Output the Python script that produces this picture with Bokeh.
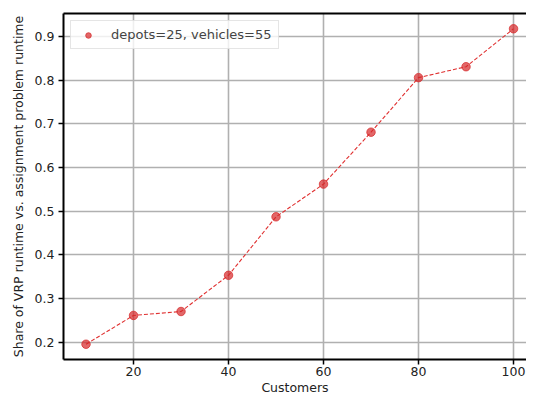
from bokeh.plotting import figure
from bokeh.models import Range1d, FixedTicker, Legend, LegendItem, LinearAxis
from bokeh.embed import file_html
from bokeh.resources import INLINE

customers = [10, 20, 30, 40, 50, 60, 70, 80, 90, 100]
share = [0.195, 0.261, 0.270, 0.353, 0.487, 0.562, 0.681, 0.806, 0.831, 0.918]
series_label = "depots=25, vehicles=55"
x_ticks = [20, 40, 60, 80, 100]
y_ticks = [0.2, 0.3, 0.4, 0.5, 0.6, 0.7, 0.8, 0.9]

FONT = "DejaVu Sans"

p = figure(width=526, height=397, output_backend="svg", toolbar_location=None,
           x_range=Range1d(5.26, 102.73), y_range=Range1d(0.160, 0.953),
           min_border_left=63, min_border_right=0, min_border_top=13, min_border_bottom=36)

p.line(customers, share, line_color="#e03030", line_dash="4 2", line_width=1.1)
r = p.scatter(customers, share, size=8.5, fill_color="#d62728", fill_alpha=0.7,
              line_color="#d62728", line_alpha=0.7)

legend = Legend(items=[LegendItem(label=series_label, renderers=[r])],
                location="top_left", margin=7, padding=6, spacing=0,
                label_text_font=FONT, label_text_font_size="13px",
                label_standoff=12, glyph_width=22, glyph_height=14,
                border_line_color="#cccccc", border_line_width=1,
                background_fill_alpha=0.8)
p.add_layout(legend)

p.outline_line_color = None

xax = p.below[0]
yax = p.left[0]
for ax in (xax, yax):
    ax.axis_line_color = "black"
    ax.axis_line_width = 2
    ax.major_tick_line_color = "black"
    ax.major_tick_line_width = 1.5
    ax.major_tick_out = 5
    ax.major_tick_in = 0
    ax.minor_tick_line_color = None
    ax.major_label_text_font = FONT
    ax.major_label_text_font_size = "12.5px"
    ax.major_label_text_color = "#222222"
    ax.axis_label_text_font = FONT
    ax.axis_label_text_font_size = "12.5px"
    ax.axis_label_text_font_style = "normal"
    ax.axis_label_text_color = "#222222"

xax.ticker = FixedTicker(ticks=x_ticks)
yax.ticker = FixedTicker(ticks=y_ticks)
xax.axis_label = "Customers"
yax.axis_label = "Share of VRP runtime vs. assignment problem runtime"
xax.major_label_standoff = 2
yax.major_label_standoff = 4
xax.axis_label_standoff = 1
yax.axis_label_standoff = 6

top = LinearAxis(ticker=FixedTicker(ticks=[]), major_label_text_font_size="0px",
                 axis_line_color="black", axis_line_width=2,
                 major_tick_line_color=None, minor_tick_line_color=None)
p.add_layout(top, "above")

p.xgrid.ticker = FixedTicker(ticks=x_ticks)
p.ygrid.ticker = FixedTicker(ticks=y_ticks)
p.grid.grid_line_color = "#b0b0b0"
p.grid.grid_line_width = 1.6

open("out.html", "w").write(file_html(p, INLINE))
